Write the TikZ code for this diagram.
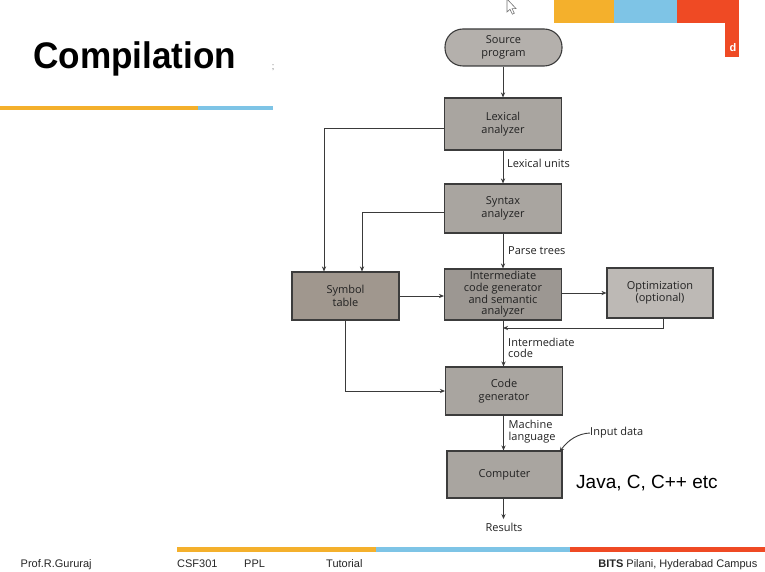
\documentclass[tikz,border=0pt]{standalone}
\usepackage{fontspec}
\setmainfont{Liberation Sans}
\newfontfamily\diagfont{Open Sans}
\newfontfamily\titlefont[FakeStretch=0.95]{Liberation Sans}
\usetikzlibrary{arrows.meta,calc}

\definecolor{barorange}{HTML}{F4B02C}
\definecolor{barblue}{HTML}{7EC4E6}
\definecolor{barred}{HTML}{EF4A24}
\definecolor{boxgray}{HTML}{A9A5A0}
\definecolor{boxdark}{HTML}{9C9792}
\definecolor{boxbrown}{HTML}{A0978E}
\definecolor{boxlight}{HTML}{BDB9B5}
\definecolor{boxline}{HTML}{3C3C3C}
\definecolor{linec}{HTML}{3A3A3A}
\definecolor{txt}{HTML}{222222}

\tikzset{
  stagebox/.style={draw=boxline, line width=1.1pt, fill=boxgray,
    minimum width=117pt, minimum height=50pt, align=center, inner sep=1pt,
    font=\diagfont\fontsize{11}{12.4}\selectfont, text=txt},
  arr/.style={draw=linec, line width=0.9pt, -{Stealth[length=5pt,width=4.2pt]}},
  lbl/.style={font=\diagfont\fontsize{11}{11.7}\selectfont, text=txt,
    anchor=west, align=left, inner sep=0pt},
  foot/.style={font=\fontsize{11}{12}\selectfont, text=black!85, inner sep=0pt, anchor=base west}
}

\begin{document}
\begin{tikzpicture}[x=1pt,y=-1pt]
\useasboundingbox (0,0) rectangle (765,572);
\fill[white] (0,0) rectangle (765,572);

% slide header: coloured corner blocks
\fill[barorange] (554,0) rectangle (614,22.7);
\fill[barblue] (614,0) rectangle (677,22.7);
\fill[barred] (677,0) rectangle (739,22.7);
\fill[barred] (725,22) rectangle (739,56.7);
\node[font=\bfseries\fontsize{11}{12}\selectfont, text=white, anchor=west, inner sep=0] (hdrd) at (729.5,48) {d};

% mouse pointer
\draw[black!55, fill=white, line width=0.6pt] (507,-1) -- (507,12) -- (510,9.3) -- (512.3,14.2)
  -- (514.3,13.3) -- (512.1,8.6) -- (516,8.6) -- cycle;

% title and its rule
\node[font=\titlefont\bfseries\fontsize{37}{40}\selectfont, anchor=base west, inner sep=0] (title) at (33,68.3) {Compilation};
\fill[barorange] (0,106) rectangle (198,110.5);
\fill[barblue] (198,106) rectangle (273,110.5);
\node[font=\fontsize{9}{10}\selectfont, text=black!55, inner sep=0] (semi) at (273,68) {;};

% compiler stages
\node[stagebox, fill=boxlight!95!black, rounded corners=18pt, minimum height=37pt] (src) at (503.5,47.5) {Source\\program};
\node[stagebox, minimum height=52pt] (lex) at (503,124) {Lexical\\analyzer};
\node[stagebox, minimum height=49pt] (syn) at (503,208.5) {Syntax\\analyzer};
\node[stagebox, fill=boxbrown, minimum width=107pt, minimum height=48pt] (sym) at (345.5,296) {Symbol\\table};
\node[stagebox, fill=boxdark, minimum height=51pt, font=\diagfont\fontsize{11}{11.7}\selectfont] (inter) at (503,294.5) {Intermediate\\code generator\\and semantic\\analyzer};
\node[stagebox, fill=boxlight, minimum width=106pt, minimum height=50pt] (opt) at (660,293) {Optimization\\(optional)};
\node[stagebox, minimum height=48pt] (cg) at (504,391) {Code\\generator};
\node[stagebox, minimum width=115pt, minimum height=47pt] (comp) at (504.5,474.5) {Computer};

% labels
\node[lbl] (lu) at (507,163) {Lexical units};
\node[lbl] (pt) at (508,251) {Parse trees};
\node[lbl] (ic) at (508,348) {Intermediate\\code};
\node[lbl] (ml) at (508.5,431.5) {Machine\\language};
\node[lbl] (input) at (590,433) {Input data};
\node[font=\diagfont\fontsize{11}{12}\selectfont, text=txt, inner sep=0pt] (res) at (504,527.5) {Results};
\node[font=\fontsize{19}{21}\selectfont, anchor=west, inner sep=0] (langs) at (576,483) {Java, C, C++ etc};

% flow connectors
\coordinate (merge) at (503,328);
\draw[arr] (src.south -| 503,0) -- (lex.north -| 503,0);
\draw[arr] (lex.south -| 503,0) -- (syn.north -| 503,0);
\draw[arr] (syn.south -| 503,0) -- (inter.north -| 503,0);
\draw[arr] (inter.south -| 503.5,0) -- (cg.north -| 503.5,0);
\draw[arr] (cg.south -| 503.5,0) -- (comp.north -| 503.5,0);
\draw[arr] (comp.south -| 503.5,0) -- ([yshift=4pt]res.north -| 503.5,0);

\draw[arr] ([yshift=-4pt]lex.west) -| ([xshift=-21.5pt]sym.north);
\draw[arr] ([yshift=-3.5pt]syn.west) -| ([xshift=16.5pt]sym.north);
\draw[arr] (sym.east) -- (sym.east -| inter.west);
\draw[arr] ([yshift=1.5pt]inter.east) -- ([yshift=1.5pt]inter.east -| opt.west);
\draw[arr] ([xshift=3pt]opt.south) |- (merge);
\draw[arr] (sym.south) |- (cg.west);
\draw[arr] (input.west) .. controls (578,433.5) and (568,440) .. ([xshift=-3pt,yshift=-1.5pt]comp.north east);

% slide footer
\fill[barorange] (177,547) rectangle (375.5,551.5);
\fill[barblue] (375.5,547) rectangle (570,551.5);
\fill[barred] (570,547) rectangle (765,551.5);
\node[foot] (author) at (20.5,567) {Prof.R.Gururaj};
\node[foot] (course) at (177,567) {CSF301};
\node[foot] (ppl) at (244,567) {PPL};
\node[foot] (tut) at (326,567) {Tutorial};
\node[foot, anchor=base east] (campus) at (757.5,567) {\textbf{BITS} Pilani, Hyderabad Campus};
\end{tikzpicture}
\end{document}
